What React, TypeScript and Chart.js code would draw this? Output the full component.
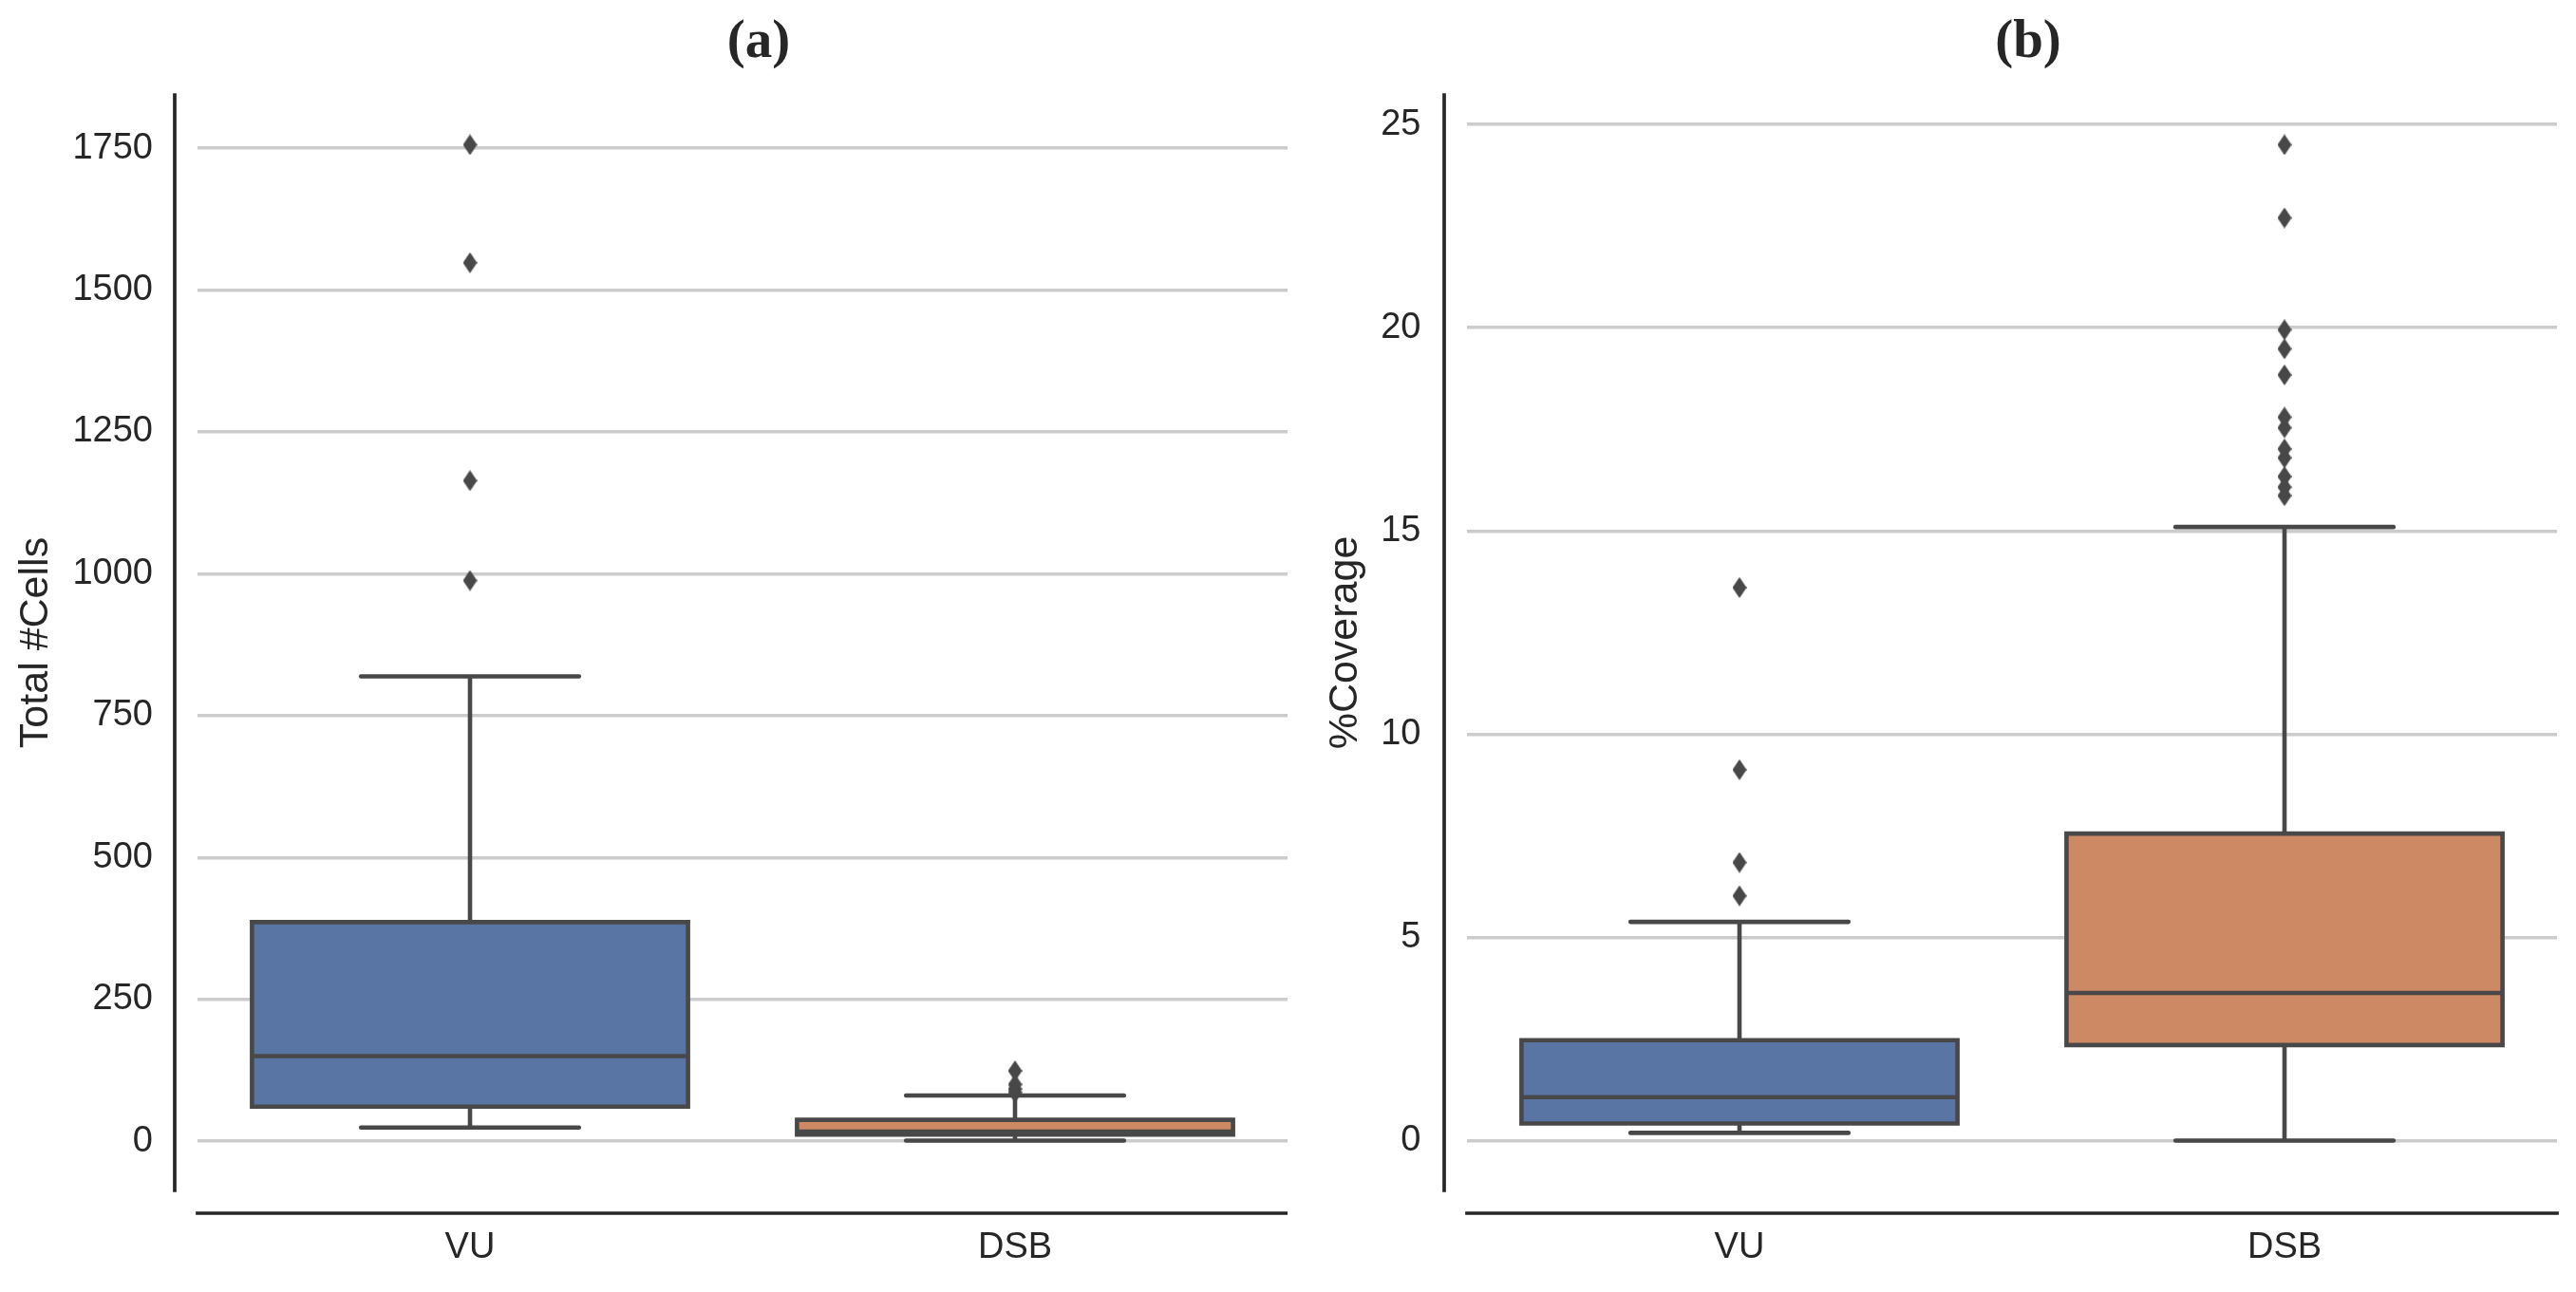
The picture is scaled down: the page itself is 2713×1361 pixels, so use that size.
import React, { useEffect, useRef } from 'react';
import { Chart, registerables } from 'chart.js';

Chart.register(...registerables);

// ---------- data ----------
const categories = ['VU', 'DSB'];

// Panel (a): Total #Cells
const cellsLowWhisker = [24, 1];
const cellsQ1 = [61, 11.7];
const cellsMedian = [150, 16.7];
const cellsQ3 = [386, 37.6];
const cellsHighWhisker = [819, 80.6];
const cellsOutliersVU = [988, 1164, 1548, 1756];
const cellsOutliersDSB = [86, 92, 100, 124];
const cellsTicks = [0, 250, 500, 750, 1000, 1250, 1500, 1750];

// Panel (b): %Coverage
const covLowWhisker = [0.2, 0.01];
const covQ1 = [0.43, 2.36];
const covMedian = [1.08, 3.64];
const covQ3 = [2.48, 7.56];
const covHighWhisker = [5.39, 15.1];
const covOutliersVU = [6.03, 6.85, 9.13, 13.61];
const covOutliersDSB = [15.87, 16.08, 16.34, 16.8, 17.02, 17.54, 17.8, 18.84, 19.48, 19.95, 22.7, 24.5];
const covTicks = [0, 5, 10, 15, 20, 25];

// ---------- styles ----------
const BOX_COLORS = ['#5975a4', '#cc8963'];
const EDGE = '#484848';
const TEXT = '#262626';
const LW = 4.6;
const BOX_HALF = 0.4;
const CAP_HALF = 0.2;
const SANS = "'Liberation Sans', Arial, sans-serif";

function makeDiamond(color: string) {
  const c = document.createElement('canvas');
  c.width = 15;
  c.height = 22;
  const ctx = c.getContext('2d')!;
  ctx.fillStyle = color;
  ctx.beginPath();
  ctx.moveTo(7.5, 0);
  ctx.lineTo(15, 11);
  ctx.lineTo(7.5, 22);
  ctx.lineTo(0, 11);
  ctx.closePath();
  ctx.fill();
  return c;
}

const spinePlugin = {
  id: 'spines',
  afterDraw(chart: any, _args: any, opts: any) {
    const { ctx, chartArea: a } = chart;
    ctx.save();
    ctx.strokeStyle = opts.color;
    ctx.lineWidth = opts.width;
    ctx.lineCap = 'square';
    ctx.beginPath();
    ctx.moveTo(a.left - opts.offset, a.top);
    ctx.lineTo(a.left - opts.offset, a.bottom);
    ctx.moveTo(a.left, a.bottom + opts.offset);
    ctx.lineTo(a.right, a.bottom + opts.offset);
    ctx.stroke();
    ctx.restore();
  },
};

const panelTitlePlugin = {
  id: 'panelTitle',
  afterDraw(chart: any, _args: any, opts: any) {
    const { ctx, chartArea: a } = chart;
    ctx.save();
    ctx.fillStyle = opts.color;
    ctx.font = opts.font;
    ctx.textAlign = 'center';
    ctx.textBaseline = 'middle';
    ctx.fillText(opts.text, (a.left + a.right) / 2 + opts.dx, opts.y);
    ctx.restore();
  },
};

function boxDatasets(
  lo: number[], q1: number[], med: number[], q3: number[], hi: number[],
  outliers: number[][], diamond: HTMLCanvasElement
) {
  const ds: any[] = [];
  const line = { pointRadius: 0, fill: false, borderColor: EDGE, borderWidth: LW, tension: 0 };
  categories.forEach((_, i) => {
    const L = i - BOX_HALF;
    const R = i + BOX_HALF;
    // box fill
    ds.push({
      data: [{ x: L, y: q3[i] }, { x: R, y: q3[i] }],
      fill: { value: q1[i] },
      backgroundColor: BOX_COLORS[i],
      borderWidth: 0,
      pointRadius: 0,
      order: 10,
    });
    // whiskers
    ds.push({ ...line, data: [{ x: i, y: q1[i] }, { x: i, y: lo[i] }], order: 9 });
    ds.push({ ...line, data: [{ x: i, y: q3[i] }, { x: i, y: hi[i] }], order: 9 });
    // caps
    ds.push({ ...line, borderCapStyle: 'round', data: [{ x: i - CAP_HALF, y: lo[i] }, { x: i + CAP_HALF, y: lo[i] }], order: 8 });
    ds.push({ ...line, borderCapStyle: 'round', data: [{ x: i - CAP_HALF, y: hi[i] }, { x: i + CAP_HALF, y: hi[i] }], order: 8 });
    // box outline
    ds.push({
      ...line,
      borderCapStyle: 'square',
      borderJoinStyle: 'miter',
      data: [
        { x: L, y: q1[i] }, { x: L, y: q3[i] }, { x: R, y: q3[i] }, { x: R, y: q1[i] }, { x: L, y: q1[i] },
      ],
      order: 7,
    });
    // median
    ds.push({ ...line, data: [{ x: L, y: med[i] }, { x: R, y: med[i] }], order: 6 });
    // outliers
    ds.push({
      data: outliers[i].map((v) => ({ x: i, y: v })),
      showLine: false,
      pointStyle: diamond,
      pointRadius: 6,
      order: 5,
    });
  });
  return ds;
}

function makeConfig(p: {
  title: string; yLabel: string; ticks: number[];
  lo: number[]; q1: number[]; med: number[]; q3: number[]; hi: number[]; outliers: number[][];
  axisWidth: number; tickPad: number; labelPad: number; padRight: number; diamond: HTMLCanvasElement;
}) {
  const all = [...p.lo, ...p.hi, ...p.outliers.flat()];
  const dMin = Math.min(...all);
  const dMax = Math.max(...all);
  const margin = 0.05 * (dMax - dMin);
  return {
    type: 'line',
    data: { datasets: boxDatasets(p.lo, p.q1, p.med, p.q3, p.hi, p.outliers, p.diamond) },
    options: {
      animation: false,
      responsive: false,
      events: [],
      layout: { autoPadding: false, padding: { top: 100, left: 0, right: p.padRight, bottom: 0 } },
      plugins: {
        legend: { display: false },
        tooltip: { enabled: false },
        title: { display: false },
        spines: { offset: 24, color: TEXT, width: 3.7 },
        panelTitle: { text: p.title, font: "bold 57px 'Liberation Serif', 'Times New Roman', serif", color: TEXT, dx: 17, y: 45 },
      },
      scales: {
        x: {
          type: 'linear',
          min: -0.5,
          max: 1.5,
          afterBuildTicks: (s: any) => {
            s.ticks = categories.map((_, i) => ({ value: i }));
          },
          afterFit: (s: any) => {
            s.height = 107;
          },
          ticks: {
            callback: (v: any) => categories[v] ?? '',
            font: { family: SANS, size: 38 },
            color: TEXT,
            padding: 38,
            maxRotation: 0,
            autoSkip: false,
          },
          grid: { display: false, drawTicks: false },
          border: { display: false },
        },
        y: {
          type: 'linear',
          min: dMin - margin,
          max: dMax + margin,
          afterBuildTicks: (s: any) => {
            s.ticks = p.ticks.map((v) => ({ value: v }));
          },
          afterFit: (s: any) => {
            s.width = p.axisWidth;
          },
          ticks: {
            callback: (v: any) => String(v),
            font: { family: SANS, size: 38 },
            color: TEXT,
            padding: p.tickPad,
          },
          grid: { color: '#cccccc', lineWidth: 3.5, drawTicks: false },
          border: { display: false },
          title: {
            display: true,
            text: p.yLabel,
            font: { family: SANS, size: 43 },
            color: TEXT,
            padding: { top: p.labelPad, bottom: 0 },
          },
        },
      },
    },
    plugins: [spinePlugin, panelTitlePlugin],
  };
}

export default function App() {
  const refA = useRef<HTMLCanvasElement>(null);
  const refB = useRef<HTMLCanvasElement>(null);

  useEffect(() => {
    const diamond = makeDiamond(EDGE);
    const chartA = new Chart(
      refA.current!,
      makeConfig({
        title: '(a)', yLabel: 'Total #Cells', ticks: cellsTicks,
        lo: cellsLowWhisker, q1: cellsQ1, med: cellsMedian, q3: cellsQ3, hi: cellsHighWhisker,
        outliers: [cellsOutliersVU, cellsOutliersDSB],
        axisWidth: 208, tickPad: 47, labelPad: 12.5, padRight: 0, diamond,
      }) as any
    );
    const chartB = new Chart(
      refB.current!,
      makeConfig({
        title: '(b)', yLabel: '%Coverage', ticks: covTicks,
        lo: covLowWhisker, q1: covQ1, med: covMedian, q3: covQ3, hi: covHighWhisker,
        outliers: [covOutliersVU, covOutliersDSB],
        axisWidth: 189, tickPad: 48.5, labelPad: 35, padRight: 20, diamond,
      }) as any
    );
    return () => {
      chartA.destroy();
      chartB.destroy();
    };
  }, []);

  return (
    <div style={{ position: 'absolute', left: 0, top: 0, width: 2713, height: 1361, background: '#ffffff' }}>
      <canvas ref={refA} width={1356} height={1361} style={{ position: 'absolute', left: 0, top: 0, width: 1356, height: 1361 }} />
      <canvas ref={refB} width={1357} height={1361} style={{ position: 'absolute', left: 1356, top: 0, width: 1357, height: 1361 }} />
    </div>
  );
}
